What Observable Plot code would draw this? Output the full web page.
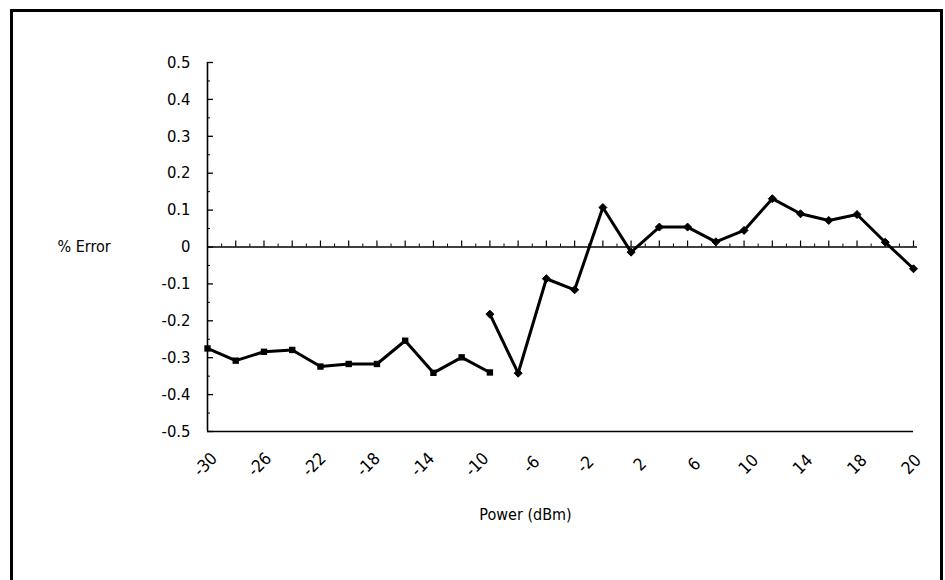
<!DOCTYPE html>
<html>
<head>
<meta charset="utf-8">
<script src="https://cdn.jsdelivr.net/npm/d3@7"></script>
<script src="https://cdn.jsdelivr.net/npm/@observablehq/plot@0.6"></script>
<style>
  html, body { margin: 0; padding: 0; background: #fff; }
  #wrap { position: relative; width: 945px; height: 580px; overflow: hidden; }
  #frame { position: absolute; left: 10px; top: 9px; width: 933px; height: 620px;
           border: 3px solid #000; box-sizing: border-box; pointer-events: none; }
  svg { display: block; }
</style>
</head>
<body>
<div id="wrap"><div id="frame"></div></div>
<script>
// Series 1 (square markers): power (dBm) and % error
const powerA = [-30, -28, -26, -24, -22, -20, -18, -16, -14, -12, -10];
const errorA = [-0.275, -0.308, -0.284, -0.279, -0.324, -0.317, -0.317, -0.254, -0.341, -0.299, -0.340];
// Series 2 (diamond markers)
const powerB = [-10, -8, -6, -4, -2, 0, 2, 4, 6, 8, 10, 12, 14, 16, 18, 20];
const errorB = [-0.182, -0.342, -0.086, -0.116, 0.107, -0.014, 0.054, 0.054, 0.014, 0.045, 0.131, 0.090, 0.072, 0.088, 0.013, -0.059];

const xDomain = [-30, 20];
const yDomain = [-0.5, 0.5];
const yTicks = [-0.5, -0.4, -0.3, -0.2, -0.1, 0, 0.1, 0.2, 0.3, 0.4, 0.5];
const yMinorTicks = [-0.45, -0.35, -0.25, -0.15, -0.05, 0.05, 0.15, 0.25, 0.35, 0.45];
// category-style tick labels, evenly spread along the axis as in the original
const xTickLabels = ["-30", "-26", "-22", "-18", "-14", "-10", "-6", "-2", "2", "6", "10", "14", "18", "20"];
const xMajorTicks = [-28, -26, -24, -22, -20, -18, -16, -14, -12, -10, -8, -6, -4, -2, 0, 2, 4, 6, 8, 10, 12, 14, 16, 18, 20];
const xMinorTicks = [-29, -27, -25, -23, -21, -19, -17, -15, -13, -11, -9, -7, -5, -3, -1, 1, 3, 5, 7, 9, 11, 13, 15, 17, 19];
const yTitle = "% Error";
const xTitle = "Power (dBm)";

const dataA = powerA.map((p, i) => ({power: p, error: errorA[i]}));
const dataB = powerB.map((p, i) => ({power: p, error: errorB[i]}));
const nLab = xTickLabels.length;
const labelData = xTickLabels.map((t, i) => ({text: t, pos: xDomain[0] + i * (xDomain[1] - xDomain[0]) / (nLab - 1)}));

const font = "'Liberation Sans Narrow', 'Arial Narrow', 'DejaVu Sans Condensed', 'Liberation Sans', sans-serif";

const chart = Plot.plot({
  width: 945,
  height: 580,
  marginLeft: 207,
  marginRight: 32,
  marginTop: 62,
  marginBottom: 149,
  style: {fontFamily: font, fontSize: "16px", color: "#000", background: "transparent", overflow: "visible"},
  x: {domain: xDomain, axis: null},
  y: {domain: yDomain, axis: null},
  marks: [
    // y axis labels
    Plot.axisY(yTicks, {anchor: "left", label: null, tickSize: 0, tickPadding: 17, tickFormat: d => String(d), fontSize: 16.5, fill: "#000"}),
    // y axis line
    Plot.ruleX([xDomain[0]], {stroke: "#000", strokeWidth: 1.6}),
    // bottom axis line
    Plot.ruleY([yDomain[0]], {stroke: "#000", strokeWidth: 1.6}),
    // y ticks pointing inward
    Plot.ruleY(yTicks, {x1: xDomain[0], x2: xDomain[0], insetRight: -6, stroke: "#000", strokeWidth: 1.3}),
    Plot.ruleY(yMinorTicks, {x1: xDomain[0], x2: xDomain[0], insetRight: -3, stroke: "#000", strokeWidth: 1}),
    // zero line
    Plot.ruleY([0], {stroke: "#000", strokeWidth: 1.6, insetRight: -4}),
    // ticks on zero line
    Plot.ruleX(xMajorTicks, {y1: 0, y2: 0, insetTop: -6, stroke: "#000", strokeWidth: 1.2}),
    Plot.ruleX(xMinorTicks, {y1: 0, y2: 0, insetTop: -3, stroke: "#000", strokeWidth: 1}),
    // x tick labels, rotated
    Plot.text(labelData, {x: "pos", y: yDomain[0], text: "text", rotate: -45, dy: 33, dx: -2, textAnchor: "middle", fontSize: 17, fill: "#000"}),
    // data lines
    Plot.line(dataA, {x: "power", y: "error", stroke: "#000", strokeWidth: 3, strokeLinejoin: "round"}),
    Plot.dot(dataA, {x: "power", y: "error", symbol: "square", r: 3.6, fill: "#000", stroke: "none"}),
    Plot.line(dataB, {x: "power", y: "error", stroke: "#000", strokeWidth: 3, strokeLinejoin: "round"}),
    Plot.dot(dataB, {x: "power", y: "error", symbol: "diamond2", r: 3.6, fill: "#000", stroke: "#000", strokeWidth: 1}),
    // axis titles
    Plot.text([yTitle], {frameAnchor: "left", y: 0, dx: -150, textAnchor: "start", fontSize: 16, fill: "#000"}),
    Plot.text([xTitle], {frameAnchor: "bottom", dy: 88, dx: -35, textAnchor: "middle", fontSize: 16, fill: "#000"})
  ]
});

document.getElementById("wrap").insertBefore(chart, document.getElementById("frame"));
</script>
</body>
</html>
